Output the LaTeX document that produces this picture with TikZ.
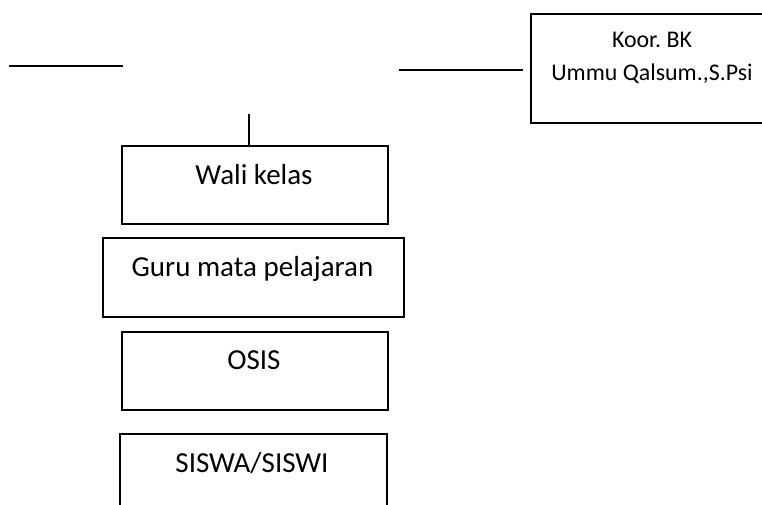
\documentclass[tikz,border=0pt]{standalone}
\usepackage{fontspec}
\setmainfont{Carlito}
\frenchspacing
\begin{document}
\begin{tikzpicture}[x=1pt,y=-1pt,
  box/.style={draw=black, line width=2pt, rectangle, inner sep=0pt, anchor=north west},
  lbl/.style={inner sep=0pt, text height=18.7pt, text depth=0pt, font=\fontsize{29}{35}\selectfont},
  klbl/.style={inner sep=0pt, text height=15.4pt, text depth=0pt, font=\fontsize{23.9}{29}\selectfont},
  conn/.style={draw=black, line width=1.6pt}]
\useasboundingbox[fill=white] (0,0) rectangle (762,504);
% boxes
\node[box, minimum width=235pt, minimum height=109pt] (koor) at (530,13) {};
\node[box, minimum width=266pt, minimum height=78pt] (wali) at (121,145) {};
\node[box, minimum width=301pt, minimum height=79pt] (guru) at (102,237) {};
\node[box, minimum width=266pt, minimum height=78pt] (osis) at (121,331) {};
\node[box, minimum width=267pt, minimum height=90pt] (siswa) at (119,433) {};
% texts
\node[klbl] (koort1) at (652,40) {Koor. BK};
\node[klbl] (koort2) at (652,72.5) {Ummu Qalsum.,S.Psi};
\node[lbl] (walit) at (254,175) {Wali kelas};
\node[lbl] (gurut) at (252.5,267) {Guru mata pelajaran};
\node[lbl] (osist) at (254,360) {OSIS};
\node[lbl] (siswat) at (252,463) {SISWA/SISWI};
% lines
\coordinate (la) at (9,66);
\coordinate (lb) at (123,66);
\coordinate (ra) at (399,70);
\coordinate (rb) at (523,70);
\coordinate (va) at (249,114);
\draw[conn] (la) -- (lb);
\draw[conn] (ra) -- (rb);
\draw[conn] (va) -- (va |- wali.north);
\end{tikzpicture}
\end{document}
